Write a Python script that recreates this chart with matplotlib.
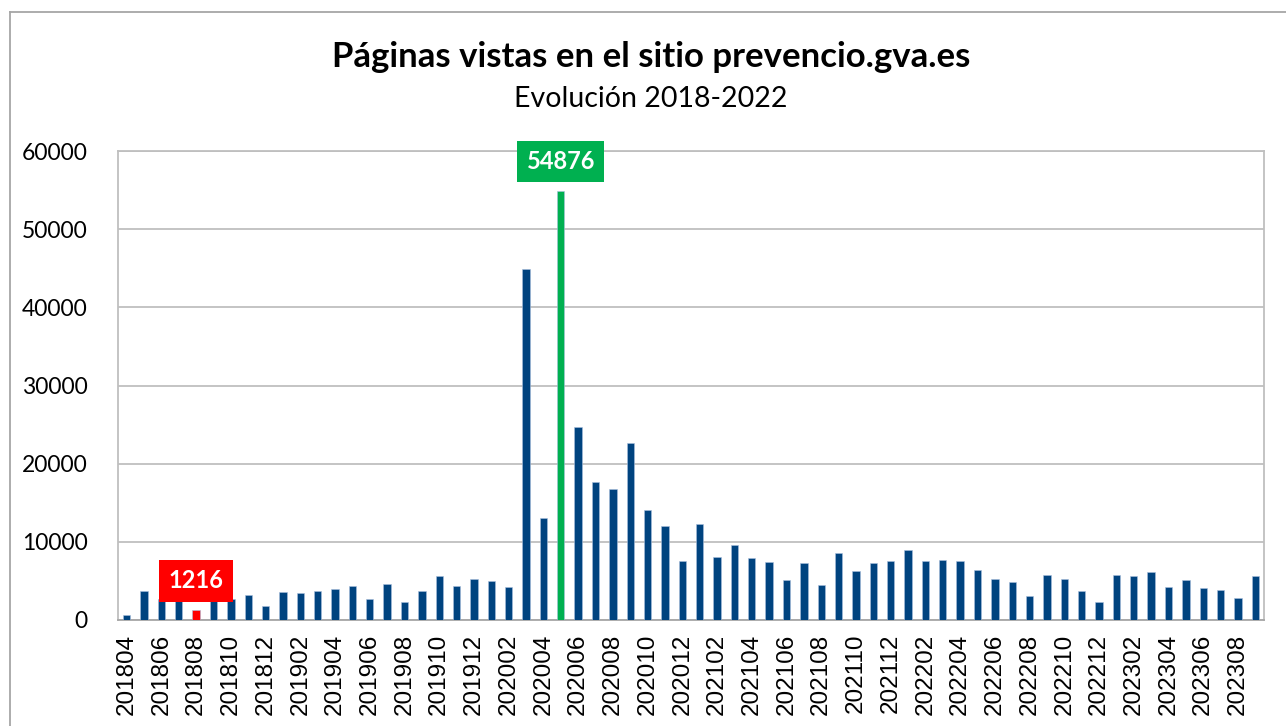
import matplotlib.pyplot as plt
from matplotlib.lines import Line2D

# periodos mensuales 201804 .. 202309
periodos = [f"{y}{m:02d}" for y in range(2018, 2024) for m in range(1, 13)
            if (y, m) >= (2018, 4) and (y, m) <= (2023, 9)]

visitas = [
    700, 3650, 2700, 2900, 1216, 2800, 2650, 3240, 1830,            # 2018
    3580, 3500, 3710, 3970, 4350, 2650, 4560, 2260, 3710, 5600, 4350, 5200,  # 2019
    4990, 4270, 44860, 13050, 54876, 24730, 17610, 16720, 22600, 14030, 11980, 7500,  # 2020
    12240, 8020, 9550, 7970, 7380, 5160, 7290, 4480, 8610, 6310, 7330, 7550,  # 2021
    9000, 7500, 7720, 7500, 6400, 5240, 4900, 3030, 5710, 5240, 3750, 2260,  # 2022
    5800, 5630, 6180, 4180, 5120, 4050, 3800, 2850, 5670,            # 2023
]

titulo = "Páginas vistas en el sitio prevencio.gva.es"
subtitulo = "Evolución 2018-2022"

AZUL = "#00437F"
VERDE = "#00B050"
ROJO = "#FF0000"

i_max = visitas.index(max(visitas))
i_min = visitas.index(min(visitas[1:]))  # el minimo destacado (sin contar el primer mes)

colores = [AZUL] * len(visitas)
colores[i_max] = VERDE
colores[i_min] = ROJO

fig = plt.figure(figsize=(12.86, 7.26), dpi=100)
ax = fig.add_axes([118 / 1286, 1 - 620 / 726, (1264 - 118) / 1286, (620 - 151) / 726])

x = list(range(len(visitas)))
ax.bar(x, visitas, width=0.42, color=colores, edgecolor="#A9BFDD", linewidth=0.4, zorder=3)

ax.set_xlim(-0.5, len(visitas) - 0.5)
ax.set_ylim(0, 60000)
ax.set_yticks(range(0, 60001, 10000))
ax.set_yticklabels([str(v) for v in range(0, 60001, 10000)], fontsize=16.5, family="Lato")
ax.set_xticks(x[::2])
ax.set_xticklabels(periodos[::2], rotation=90, fontsize=17.5, family="Liberation Sans")
ax.tick_params(axis="both", length=0)
ax.tick_params(axis="y", pad=22)
ax.tick_params(axis="x", pad=10)
ax.grid(axis="y", color="#BFBFBF", linewidth=1.3, zorder=0)
for s in ax.spines.values():
    s.set_color("#BFBFBF")
    s.set_linewidth(1.3)
ax.spines["bottom"].set_color("#A6A6A6")

# etiquetas de maximo y minimo
for i, c in [(i_max, VERDE), (i_min, ROJO)]:
    ax.annotate(str(visitas[i]), (i, visitas[i]), xytext=(0, 13), textcoords="offset points",
                ha="center", va="bottom", color="white", fontsize=17, fontweight="bold",
                family="Lato",
                bbox=dict(boxstyle="square,pad=0.4", fc=c, ec="none"), zorder=5)

fig.text(651 / 1286, 1 - 57 / 726, titulo, ha="center", va="center",
         fontsize=25, fontweight="bold", family="Lato")
fig.text(651 / 1286, 1 - 99 / 726, subtitulo, ha="center", va="center",
         fontsize=20.5, family="Lato")

# marco exterior
fig.add_artist(Line2D([10 / 1286, 10 / 1286], [0, 1 - 12 / 726], color="#A6A6A6", lw=1.3))
fig.add_artist(Line2D([10 / 1286, 1], [1 - 12 / 726, 1 - 12 / 726], color="#A6A6A6", lw=1.3))

fig.savefig("out.png", dpi=100)
